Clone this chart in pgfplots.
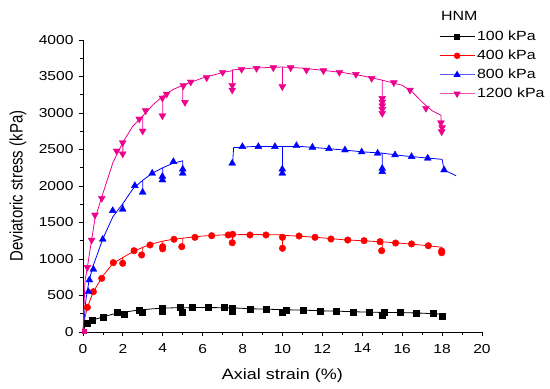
\documentclass[border=0pt]{standalone}
\usepackage{fontspec}
\setmainfont{Liberation Sans}[FakeStretch=1.2]
\newfontfamily\plainsans{Liberation Sans}
\usepackage{graphicx}
\usepackage{pgfplots}
\pgfplotsset{compat=1.18}
\begin{document}
\begin{tikzpicture}
\begin{axis}[
 scale only axis, width=399pt, height=292pt,
 xmin=0, xmax=20, ymin=0, ymax=4000,
 clip=false,
 axis x line*=bottom, axis y line*=left,
 xtick={0,2,...,20}, ytick={0,500,...,4000},
 minor x tick num=1, minor y tick num=1,
 tick align=outside, major tick length=4pt, minor tick length=2.5pt,
 tick style={black, line width=0.8pt},
 axis line style={line width=0.8pt},
 /pgf/number format/assume math mode=true,
 scaled y ticks=false,
 yticklabel style={/pgf/number format/1000 sep={}, xshift=-2pt},
 xticklabel style={yshift=-4.5pt},
 ticklabel style={font=\fontsize{13}{15}\selectfont},
 xlabel={Axial strain (\%)},
 ylabel={\scalebox{1}[1.2]{\plainsans\fontsize{15}{17}\selectfont Deviatoric stress (kPa)}},
 xlabel style={font=\fontsize{15}{17}\selectfont, at={(axis description cs:0.5,-0.151)}, anchor=center},
 ylabel style={at={(axis description cs:-0.163,0.5)}, anchor=center},
 legend style={draw=none, fill=none, at={(axis description cs:0.892,1.039)}, anchor=north west,
   font=\fontsize{13.3}{15}\selectfont, row sep=3pt, inner sep=0pt,
   nodes={inner sep=2pt, text height=9.5pt, text depth=2.5pt}},
 legend cell align=left,
 legend image code/.code={\draw[mark repeat=2,mark phase=2] plot coordinates {(0pt,0pt) (17.5pt,0pt) (35pt,0pt)};},
 unbounded coords=jump,
]
\addlegendimage{black, line width=0.8pt, mark=square*, mark size=2.5pt}
\addlegendentry{100 kPa}
\addlegendimage{red, line width=0.8pt, mark=*, mark size=2.8pt}
\addlegendentry{400 kPa}
\addlegendimage{blue!65!white, line width=1pt, mark=triangle*, mark size=3.2pt, mark options={blue}}
\addlegendentry{800 kPa}
\addlegendimage{magenta!70!white, line width=1pt, mark=triangle*, mark size=3.2pt, mark options={magenta, rotate=180}}
\addlegendentry{1200 kPa}

% 100 kPa
\addplot[black, line width=0.8pt, forget plot] coordinates {
(0,0)(0.1,80)(0.22,119)(0.47,164)(0.99,205)(1.5,245)(2,268)(2,242)(2,268)(2.5,290)(3,305)(3,270)(3,305)(3.5,318)(4,326)(4,279)(4,326)(4.5,331)(5,333)(5,278)(5,333)(6,335)(7,333)(7.5,330)(7.5,279)(7.5,330)(8.5,318)(9.5,310)(10,307)(10,278)(10,305)(11,300)(12,290)(13,283)(14,274)(15,268)(15,233)(15.1,268)(16,266)(17,258)(18,245)(18,219)};
\addplot[black, only marks, mark=square*, mark size=3pt, forget plot] coordinates {
(0.22,119)(0.47,164)(0.99,201)(1.72,270)(2.07,242)(2.82,301)(2.99,270)(3.99,324)(3.99,279)(4.89,333)(4.99,278)(5.45,333)(6.28,333)(7.08,333)(7.5,324)(7.5,279)(8.37,315)(9.2,311)(10,278)(10.2,301)(11.04,301)(11.88,288)(12.71,288)(13.55,278)(14.35,270)(15.02,233)(15.1,270)(15.92,270)(16.72,256)(17.53,256)(18,219)};

% 400 kPa
\addplot[red, line width=0.8pt, forget plot] coordinates {
(0,0)(0.1,200)(0.22,338)(0.52,552)(1,770)(1.5,940)(2,1020)(2,941)(2,1020)(2.5,1100)(3,1160)(3,1055)(3,1160)(3.5,1210)(4,1245)(4,1140)(4,1245)(4.5,1270)(5,1285)(5,1169)(5,1285)(6,1315)(7,1330)(7.5,1333)(7.5,1223)(7.5,1333)(8.5,1335)(9.5,1332)(10,1330)(10,1147)(10,1325)(11,1310)(12,1290)(13,1265)(14,1250)(15,1235)(15,1114)(15,1235)(16,1215)(17,1190)(18,1160)(18,1086)};
\addplot[red, only marks, mark=*, mark size=3.3pt, forget plot] coordinates {
(0.22,338)(0.52,552)(0.94,735)(1.52,950)(1.99,941)(2.56,1114)(2.94,1055)(3.36,1192)(3.99,1169)(3.99,1140)(4.56,1270)(4.95,1169)(5.61,1297)(6.45,1319)(7.28,1329)(7.5,1338)(7.48,1223)(8.37,1329)(9.17,1329)(10,1297)(10,1147)(10.83,1315)(11.63,1297)(12.43,1274)(13.27,1260)(14.09,1251)(14.89,1237)(14.97,1114)(15.67,1219)(16.47,1206)(17.31,1182)(17.98,1086)(17.98,1110)};

% 800 kPa
\addplot[blue, line width=0.8pt, forget plot] coordinates {
(0,0)(0.15,450)(0.3,700)(0.5,900)(1,1280)(1.5,1580)(2,1760)(2,1681)(2,1760)(2.5,1960)(3,2080)(3,1914)(3,2080)(3.5,2180)(4,2250)(4,2082)(4,2250)(4.5,2310)(5,2345)(5,2174)(6,nan)(7.5,2311)(7.55,2525)(8.5,2540)(9.5,2540)(10,2540)(10,2174)(10,2540)(11,2540)(12,2518)(13,2495)(14,2468)(15,2450)(15,2196)(15,2450)(16,2415)(17,2390)(18,2365)(18.1,2219)(18.7,2141)};
\addplot[blue, only marks, mark=triangle*, mark size=4pt, forget plot] coordinates {
(0.27,552)(0.32,712)(0.52,859)(0.99,1270)(1.49,1662)(1.99,1681)(2.6,2005)(2.99,1914)(3.47,2174)(3.98,2082)(3.98,2130)(4.53,2333)(5.0,2174)(5.0,2230)(7.48,2311)(7.99,2539)(8.79,2539)(9.62,2539)(9.99,2174)(9.99,2230)(10.7,2552)(11.5,2530)(12.33,2511)(13.13,2493)(13.97,2466)(14.77,2448)(15.0,2196)(15.0,2240)(15.64,2425)(16.47,2402)(17.28,2380)(18.1,2219)};

% 1200 kPa
\addplot[magenta, line width=0.8pt, forget plot] coordinates {
(0,0)(0.1,700)(0.22,886)(0.43,1260)(0.6,1550)(1,1900)(1.5,2320)(2,2600)(2,2440)(2,2600)(2.5,2820)(3,2960)(3,2754)(3,2960)(3.5,3110)(4,3230)(4,2963)(4,3230)(4.5,3320)(5,3380)(5,3146)(5,3380)(6,3480)(7,3555)(7.5,3580)(7.5,3315)(7.5,3590)(8.5,3615)(9.5,3625)(10,3630)(10,3361)(10,3630)(11,3615)(12,3585)(13,3555)(14,3510)(15,3450)(15,2996)(15,3450)(16,3380)(16.5,3290)(17,3150)(17.5,3030)(17.94,2970)(17.98,2744)};
\addplot[magenta, only marks, mark=triangle*, mark size=4pt, mark options={rotate=180}, forget plot] coordinates {
(0.22,886)(0.43,1260)(0.6,1603)(0.94,1832)(1.69,2480)(1.99,2593)(1.99,2440)(2.82,2918)(2.99,2754)(3.14,3032)(3.98,3206)(3.98,2963)(4.19,3260)(5.03,3374)(5.11,3146)(5.4,3425)(6.2,3484)(7.0,3558)(7.48,3315)(7.48,3380)(7.95,3599)(8.7,3612)(9.54,3621)(9.99,3361)(10.41,3621)(11.2,3589)(12.05,3580)(12.85,3558)(13.68,3530)(14.47,3475)(15,2996)(15,3050)(15,3100)(15,3150)(15,3200)(15.58,3416)(16.39,3315)(17.19,3065)(17.94,2867)(17.98,2744)(18,2800)};
\addplot[magenta, only marks, mark=square*, mark size=2pt, forget plot] coordinates {(0.05,5)};

\node[anchor=west, font=\fontsize{13.3}{15}\selectfont, inner sep=0pt] at (axis description cs:0.897,1.083) {HNM};
\end{axis}
\pgfresetboundingbox
\path ([xshift=-83pt,yshift=-57pt]current axis.south west) rectangle ([xshift=467pt,yshift=332pt]current axis.south west);
\end{tikzpicture}
\end{document}
